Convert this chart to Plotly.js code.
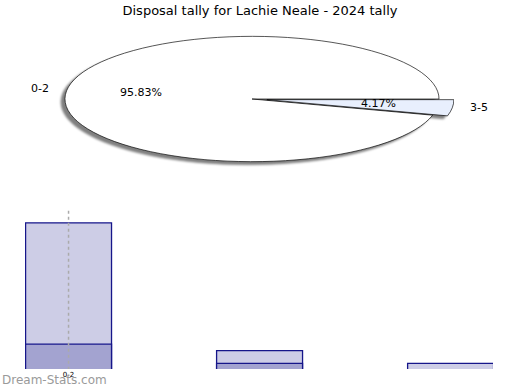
<!DOCTYPE html>
<html>
<head>
<meta charset="utf-8">
<script src="https://cdn.plot.ly/plotly-3.0.1.min.js"></script>
<style>
  html, body { margin: 0; padding: 0; background: #ffffff; overflow: hidden; }
  #wrap { position: relative; width: 520px; height: 390px; overflow: hidden; }
  #pieShadow { position: absolute; left: 50px; top: -103px; width: 404px; height: 404px; z-index: 1;
               filter: drop-shadow(-4px 3px 1px rgba(0,0,0,0.5)); }
  #pie { width: 404px; height: 404px; transform: scaleY(0.335); transform-origin: 50% 50%; }
  #pie path.surface { vector-effect: non-scaling-stroke; }
  #main { position: absolute; left: 0; top: 0; width: 520px; height: 390px; z-index: 2; }
</style>
</head>
<body>
<div id="wrap">
  <div id="pieShadow"><div id="pie"></div></div>
  <div id="main"></div>
</div>
<script>
// ---- data ----
var chartTitle = "Disposal tally for Lachie Neale - 2024 tally";
var pieLabels = ["0-2", "3-5"];
var pieValues = [23, 1];
var pieColors = ["#ffffff", "#e8effd"];
var piePull = [0, 0.08];

var barCategories = ["0-2", "3-5", "6-8"];
var barTotals = [23, 3, 1];
var barInner = [4, 1, 0];
var yAxisMax = 25;
var watermark = "Dream-Stats.com";

// ---- pie (ellipse via CSS scale) ----
Plotly.newPlot("pie", [{
  type: "pie",
  labels: pieLabels,
  values: pieValues,
  sort: false,
  direction: "clockwise",
  rotation: 105,
  pull: piePull,
  textinfo: "none",
  hoverinfo: "none",
  marker: { colors: pieColors, line: { color: "#000000", width: 1 } },
  showlegend: false
}], {
  width: 404, height: 404,
  margin: { l: 0, r: 0, t: 0, b: 0, pad: 0 },
  paper_bgcolor: "rgba(0,0,0,0)",
  plot_bgcolor: "rgba(0,0,0,0)"
}, { staticPlot: true, displayModeBar: false });

// ---- main: title, labels, bars ----
var L = 25, R = 27, T = 210, B = 21, W = 520, H = 390;
function px(x) { return (x - L) / (W - L - R); }
function py(y) { return (H - B - y) / (H - T - B); }

var total = pieValues.reduce(function (a, b) { return a + b; }, 0);
var pct = pieValues.map(function (v) { return (100 * v / total).toFixed(2) + "%"; });

var labelPos = [[40, 89], [479, 108]];
var pctPos = [[141, 93], [378, 104]];
var ann = [];
for (var i = 0; i < pieLabels.length; i++) {
  ann.push({ xref: "paper", yref: "paper", x: px(labelPos[i][0]), y: py(labelPos[i][1]),
             text: pieLabels[i], showarrow: false, xanchor: "center", yanchor: "middle",
             font: { family: "DejaVu Sans", size: 11, color: "#000" } });
  ann.push({ xref: "paper", yref: "paper", x: px(pctPos[i][0]), y: py(pctPos[i][1]),
             text: pct[i], showarrow: false, xanchor: "center", yanchor: "middle",
             font: { family: "DejaVu Sans", size: 11, color: "#000" } });
}
ann.push({ xref: "paper", yref: "paper", x: px(0), y: py(380), text: watermark,
           showarrow: false, xanchor: "left", yanchor: "middle",
           font: { family: "DejaVu Sans", size: 12, color: "#9a9a9a" } });

var traces = [
  { type: "bar", x: barCategories, y: barTotals, width: 0.45,
    marker: { color: "#cdcde6", line: { color: "#16168a", width: 1.3 } },
    hoverinfo: "none", showlegend: false },
  { type: "bar", x: barCategories, y: barInner, width: 0.45,
    marker: { color: "#a3a3d0", line: { color: "#16168a", width: 1.3 } },
    hoverinfo: "none", showlegend: false }
];

Plotly.newPlot("main", traces, {
  width: W, height: H,
  margin: { l: L, r: R, t: T, b: B, pad: 0 },
  paper_bgcolor: "rgba(0,0,0,0)",
  plot_bgcolor: "rgba(0,0,0,0)",
  barmode: "overlay",
  title: { text: chartTitle, x: 0.5, xref: "container", y: 1 - 10 / H, yref: "container",
           xanchor: "center", yanchor: "middle",
           font: { family: "DejaVu Sans", size: 13, color: "#000" } },
  xaxis: { type: "category", range: [-0.228, 2.222], showgrid: false, zeroline: false,
           showline: false, ticks: "", tickvals: [barCategories[0]],
           tickfont: { family: "DejaVu Sans", size: 7, color: "#000" }, ticklen: 0 },
  yaxis: { range: [0.12, yAxisMax], showgrid: false, zeroline: false, showline: false,
           showticklabels: false, ticks: "" },
  shapes: [{ type: "line", xref: "x", yref: "y", x0: 0, x1: 0, y0: 0, y1: yAxisMax,
             line: { color: "#aaaaaa", width: 1.5, dash: "dot" }, layer: "above" }],
  annotations: ann
}, { staticPlot: true, displayModeBar: false });
</script>
</body>
</html>
